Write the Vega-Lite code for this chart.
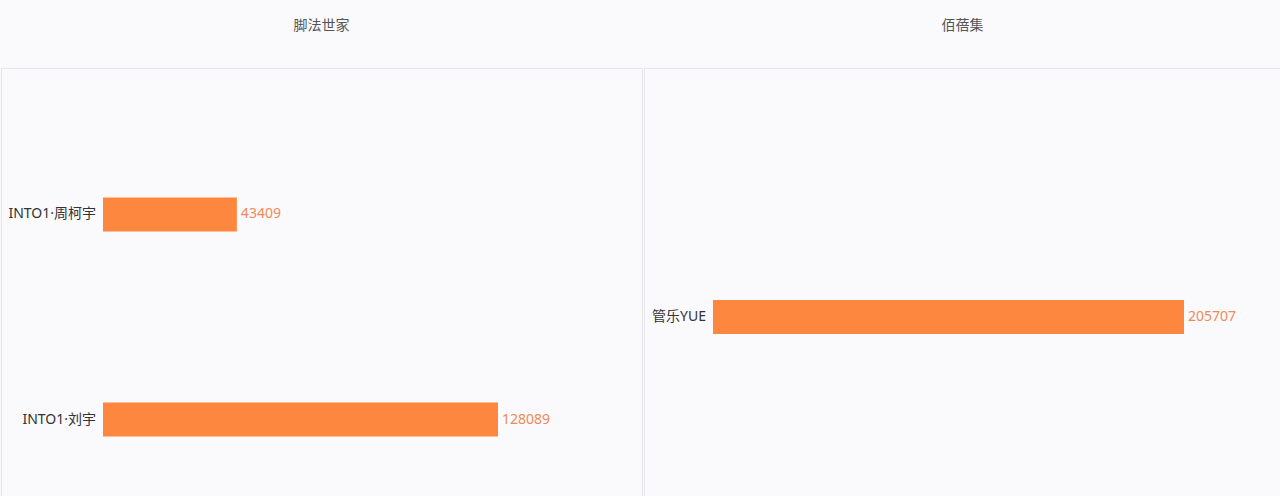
{
  "$schema": "https://vega.github.io/schema/vega-lite/v6.json",
  "background": "#faf9fb",
  "padding": {"left": 0, "top": 18, "right": 0, "bottom": 0},
  "spacing": 0,
  "datasets": {
    "left": [
      {"name": "INTO1·周柯宇", "value": 43409},
      {"name": "INTO1·刘宇", "value": 128089}
    ],
    "right": [
      {"name": "管乐YUE", "value": 205707}
    ]
  },
  "config": {
    "font": "Noto Sans, Noto Sans CJK SC",
    "view": {"stroke": "#e6e5ea", "strokeWidth": 1},
    "title": {"fontSize": 14, "fontWeight": "normal", "color": "#555555", "anchor": "middle", "offset": 35, "font": "Noto Sans CJK SC"}
  },
  "hconcat": [
    {
      "title": "脚法世家",
      "width": 641,
      "height": 498,
      "data": {"name": "left"},
      "encoding": {
        "y": {"field": "name", "type": "nominal", "sort": null, "axis": null,
              "scale": {"paddingInner": 0, "paddingOuter": 0.2145}}
      },
      "layer": [
        {
          "mark": {"type": "bar", "size": 34, "color": "#fe873f"},
          "encoding": {
            "x": {"field": "value", "type": "quantitative", "axis": null,
                  "scale": {"domain": [-33076, 174781], "nice": false, "zero": false}}
          }
        },
        {
          "mark": {"type": "text", "align": "right", "dx": -7, "fontSize": 14, "color": "#333333"},
          "encoding": {
            "x": {"datum": 0, "type": "quantitative"},
            "text": {"field": "name"}
          }
        },
        {
          "mark": {"type": "text", "align": "left", "dx": 4, "fontSize": 14, "color": "#f08a55"},
          "encoding": {
            "x": {"field": "value", "type": "quantitative"},
            "text": {"field": "value", "format": "d"}
          }
        }
      ]
    },
    {
      "title": "佰蓓集",
      "width": 637,
      "height": 498,
      "data": {"name": "right"},
      "encoding": {
        "y": {"field": "name", "type": "nominal", "sort": null, "axis": null,
              "scale": {"paddingInner": 0, "paddingOuter": 0}}
      },
      "layer": [
        {
          "mark": {"type": "bar", "size": 34, "color": "#fe873f"},
          "encoding": {
            "x": {"field": "value", "type": "quantitative", "axis": null,
                  "scale": {"domain": [-30135, 248070], "nice": false, "zero": false}}
          }
        },
        {
          "mark": {"type": "text", "align": "right", "dx": -7, "fontSize": 14, "color": "#333333"},
          "encoding": {
            "x": {"datum": 0, "type": "quantitative"},
            "text": {"field": "name"}
          }
        },
        {
          "mark": {"type": "text", "align": "left", "dx": 4, "fontSize": 14, "color": "#f08a55"},
          "encoding": {
            "x": {"field": "value", "type": "quantitative"},
            "text": {"field": "value", "format": "d"}
          }
        }
      ]
    }
  ]
}
